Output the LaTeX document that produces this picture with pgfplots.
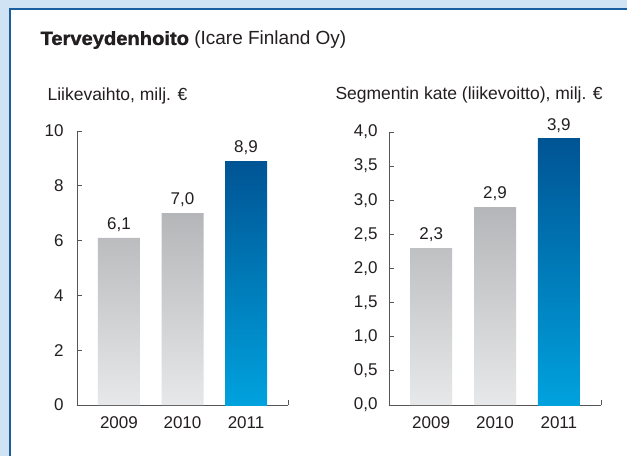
\documentclass[border=0pt]{standalone}
\usepackage{pgfplots}
\pgfplotsset{compat=1.18}
\usepackage{pgfplotstable}
\usepackage{fontspec}
\setmainfont{Liberation Sans}
\newfontfamily\heavy[FakeBold=1.5,FakeStretch=1.06]{Liberation Sans Bold}
\definecolor{bgblue}{HTML}{CFE3F5}
\definecolor{frameblue}{HTML}{1B5E9F}
\definecolor{greytop}{HTML}{B5B6B9}
\definecolor{greybot}{HTML}{E7E8E9}
\definecolor{bluetop}{HTML}{005494}
\definecolor{bluebot}{HTML}{00A2DE}
\definecolor{axisgrey}{HTML}{555555}
\definecolor{txt}{HTML}{231F20}

\pgfplotstableread{
x y
0 6.1
1 7.0
}\leftgrey
\pgfplotstableread{
x y
2 8.9
}\leftblue
\pgfplotstableread{
x y
0 2.3
1 2.9
}\rightgrey
\pgfplotstableread{
x y
2 3.9
}\rightblue

\pgfplotsset{mybars/.style={
  scale only axis, axis lines=left,
  axis line style={axisgrey, line width=0.8pt, -},
  xmin=-0.66, xmax=2.66, xtick={0,1,2}, xticklabels={2009,2010,2011},
  ymin=0, tick align=inside, major tick length=5pt,
  tick style={axisgrey, line width=0.8pt},
  x tick style={draw=none},
  ticklabel style={font=\fontsize{17}{20}\selectfont, text=txt},
  xticklabel style={yshift=-8pt},
  /pgf/number format/assume math mode=true,
  /pgf/number format/use comma,
  clip=false,
  nodes near coords,
  nodes near coords style={font=\fontsize{17}{20}\selectfont, text=txt,
     /pgf/number format/fixed, /pgf/number format/fixed zerofill,
     /pgf/number format/precision=1, /pgf/number format/use comma,
     /pgf/number format/assume math mode=true, yshift=3pt},
}}

\begin{document}
\begin{tikzpicture}
\useasboundingbox (0pt,0pt) rectangle (627pt,456pt);
\fill[bgblue] (0pt,0pt) rectangle (627pt,456pt);
\fill[white] (10pt,0pt) rectangle (627pt,447pt);
\draw[frameblue, line width=1.5pt] (10pt,0pt) -- (10pt,447pt) -- (627pt,447pt);

\node[anchor=west, text=txt, font=\fontsize{19}{22}\selectfont] at (37pt,416pt)
  {{\heavy Terveydenhoito} (Icare Finland Oy)};
\node[anchor=west, text=txt, font=\fontsize{17.5}{20}\selectfont] at (44pt,360pt)
  {Liikevaihto, milj. €};
\node[anchor=west, text=txt, font=\fontsize{17.5}{20}\selectfont] at (332pt,361pt)
  {Segmentin kate (liikevoitto), milj. €};

\begin{axis}[mybars, at={(77pt,51pt)}, anchor=south west,
  width=211pt, height=274pt, ymax=10, ytick={0,2,...,10},
  yticklabel style={xshift=-10pt}]
  \addplot[ybar, bar width=42pt, draw=none, top color=greytop, bottom color=greybot]
    table[x=x,y=y]{\leftgrey};
  \addplot[ybar, bar width=42pt, draw=none, top color=bluetop, bottom color=bluebot]
    table[x=x,y=y]{\leftblue};
  \draw[axisgrey, line width=0.8pt] (rel axis cs:1,0) -- ++(0pt,5pt);
\end{axis}

\begin{axis}[mybars, at={(389pt,51pt)}, anchor=south west,
  width=212pt, height=273pt, ymax=4, ytick={0,0.5,...,4},
  yticklabel style={xshift=-8pt, /pgf/number format/fixed, /pgf/number format/fixed zerofill,
     /pgf/number format/precision=1}]
  \addplot[ybar, bar width=42pt, draw=none, top color=greytop, bottom color=greybot]
    table[x=x,y=y]{\rightgrey};
  \addplot[ybar, bar width=42pt, draw=none, top color=bluetop, bottom color=bluebot]
    table[x=x,y=y]{\rightblue};
  \draw[axisgrey, line width=0.8pt] (rel axis cs:1,0) -- ++(0pt,5pt);
\end{axis}
\end{tikzpicture}
\end{document}
